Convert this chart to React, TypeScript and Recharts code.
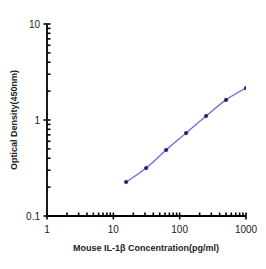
import { LineChart, Line, XAxis, YAxis } from 'recharts';

const concentration = [15.6, 31.25, 62.5, 125, 250, 500, 1000];
const opticalDensity = [0.226, 0.316, 0.487, 0.73, 1.1, 1.62, 2.15];

const xMajor = [1, 10, 100, 1000];
const yMajor = [0.1, 1, 10];

const decadeTicks = (majors: number[]) => {
  const out: number[] = [];
  majors.forEach((m, i) => {
    out.push(m);
    if (i < majors.length - 1) {
      for (let k = 2; k <= 9; k++) out.push(+(m * k).toPrecision(3));
    }
  });
  return out;
};

const data = concentration.map((c, i) => ({ conc: c, od: opticalDensity[i] }));

const font = '"Liberation Sans", Arial, sans-serif';

const XTick = (props: any) => {
  const { x, y, payload } = props;
  const major = xMajor.includes(payload.value);
  return (
    <g>
      <rect x={x - 0.8} y={y - 3.5} width={1.6} height={major ? 7 : 3.5} fill="black" />
      {major && (
        <text x={x} y={y + 17} textAnchor="middle" fontSize={10} fontFamily={font} fill="#222">
          {payload.value}
        </text>
      )}
    </g>
  );
};

const YTick = (props: any) => {
  const { x, y, payload } = props;
  const major = yMajor.includes(payload.value);
  return (
    <g>
      <rect x={major ? x - 3.5 : x} y={y - 0.8} width={major ? 7 : 3.5} height={1.6} fill="black" />
      {major && (
        <text x={x - 7} y={y + 3.5} textAnchor="end" fontSize={10} fontFamily={font} fill="#222">
          {payload.value}
        </text>
      )}
    </g>
  );
};

export default function App() {
  return (
    <div style={{ position: 'absolute', left: 0, top: 0, width: 266, height: 269, background: '#fff' }}>
      <LineChart width={266} height={269} data={data} margin={{ top: 24, right: 20, left: 0, bottom: 0 }}>
        <XAxis
          dataKey="conc"
          type="number"
          scale="log"
          domain={[1, 1000]}
          ticks={decadeTicks(xMajor)}
          interval={0}
          height={53}
          tickSize={0}
          tickMargin={0}
          tick={XTick}
          axisLine={{ stroke: '#000', strokeWidth: 1.8 }}
          allowDataOverflow
        />
        <YAxis
          type="number"
          scale="log"
          domain={[0.1, 10]}
          ticks={decadeTicks(yMajor)}
          interval={0}
          width={47}
          tickSize={0}
          tickMargin={0}
          tick={YTick}
          axisLine={{ stroke: '#000', strokeWidth: 1.8 }}
          allowDataOverflow
        />
        <Line
          dataKey="od"
          type="monotone"
          stroke="#6b6bd4"
          strokeWidth={1.3}
          dot={{ r: 1.8, fill: '#1c1c6e', stroke: '#1c1c6e', strokeWidth: 0.5 }}
          isAnimationActive={false}
        />
        <text x={146} y={251} textAnchor="middle" fontSize={9} fontWeight="bold" fontFamily={font} fill="#222">
          Mouse IL-1β Concentration(pg/ml)
        </text>
        <text
          x={17}
          y={120}
          textAnchor="middle"
          fontSize={9}
          fontWeight="bold"
          fontFamily={font}
          fill="#222"
          transform="rotate(-90 17 120)"
        >
          Optical Density(450nm)
        </text>
      </LineChart>
    </div>
  );
}
